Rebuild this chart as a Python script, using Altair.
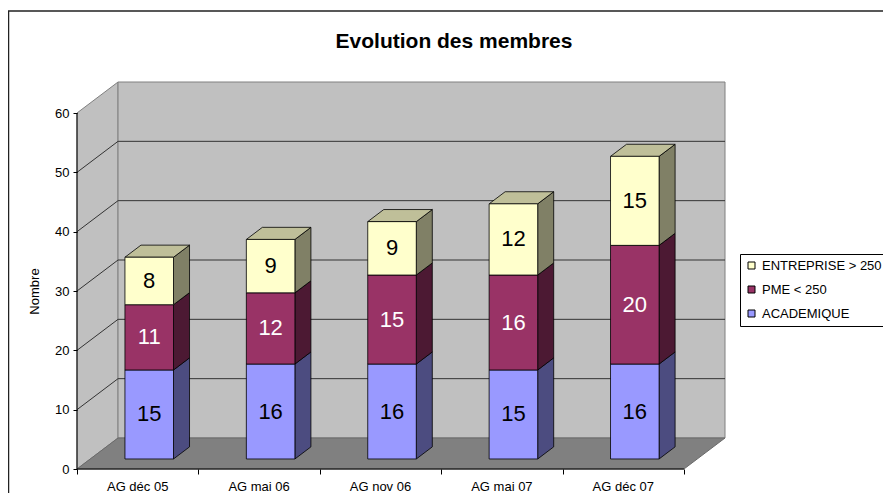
import altair as alt
import pandas as pd

# ---------------- data ----------------
categories = ["AG déc 05", "AG mai 06", "AG nov 06", "AG mai 07", "AG déc 07"]
series = ["ACADEMIQUE", "PME < 250", "ENTREPRISE > 250"]
academique = [15, 16, 16, 15, 16]
pme = [11, 12, 15, 16, 20]
entreprise = [8, 9, 9, 12, 15]
y_ticks = [0, 10, 20, 30, 40, 50, 60]
title_text = "Evolution des membres"
y_title = "Nombre"

front_colors = ["#9999FF", "#993366", "#FFFFCC"]
side_colors = ["#4C4C80", "#4C1933", "#808066"]
top_color = "#BFBF99"
label_colors = ["#000000", "#FFFFFF", "#000000"]

FONT = "Liberation Sans"

# ---------------- 3D geometry (in data units) ----------------
N = len(categories)
Y_TOP = y_ticks[-1]
CAT_PX = 121.3
UNIT_PX = 356.0 / Y_TOP
WALL_DU = 41 / CAT_PX
WALL_DV = 31 / UNIT_PX
BAR_W = 0.40
FRONT_DU = 0.095
FRONT_DV = 1.69
DEPTH_DU = 16 / CAT_PX
DEPTH_DV = 12.1 / UNIT_PX
XMAX = N + WALL_DU
YMAX = Y_TOP + WALL_DV
W = int(round(XMAX * CAT_PX))
H = int(round(YMAX * UNIT_PX))

values = [academique, pme, entreprise]
front, side, top = [], [], []
for i, cat in enumerate(categories):
    lo = 0
    x0 = i + 0.5 - BAR_W / 2 + FRONT_DU
    x1 = x0 + BAR_W
    y1 = FRONT_DV
    for s, name in enumerate(series):
        v = values[s][i]
        hi = lo + v
        y0, y1 = lo + FRONT_DV, hi + FRONT_DV
        front.append(dict(cat=cat, series=name, value=v, x0=x0, x1=x1, y0=y0, y1=y1,
                          xm=(x0 + x1) / 2, ym=(y0 + y1) / 2, tcolor=label_colors[s]))
        fid = f"{i}-{s}"
        side.append(dict(id=fid, x=x1, lo=y0, hi=y1, c=side_colors[s]))
        side.append(dict(id=fid, x=x1 + DEPTH_DU, lo=y0 + DEPTH_DV, hi=y1 + DEPTH_DV, c=side_colors[s]))
        lo = hi
    top.append(dict(id=str(i), y=y1, xa=x0, xb=x1, c=top_color))
    top.append(dict(id=str(i), y=y1 + DEPTH_DV, xa=x0 + DEPTH_DU, xb=x1 + DEPTH_DU, c=top_color))

df_front = pd.DataFrame(front)
df_side = pd.DataFrame(side)
df_top = pd.DataFrame(top)

df_left_wall = pd.DataFrame([dict(x=0, lo=0, hi=Y_TOP),
                             dict(x=WALL_DU, lo=WALL_DV, hi=Y_TOP + WALL_DV)])
df_back_wall = pd.DataFrame([dict(x0=WALL_DU, x1=N + WALL_DU, y0=WALL_DV, y1=Y_TOP + WALL_DV)])
df_floor = pd.DataFrame([dict(y=0, xa=0, xb=N),
                         dict(y=WALL_DV, xa=WALL_DU, xb=N + WALL_DU)])
grid_rows = []
for v in y_ticks[1:-1]:
    grid_rows.append(dict(x=0, y=v, x2=WALL_DU, y2=v + WALL_DV))
    grid_rows.append(dict(x=WALL_DU, y=v + WALL_DV, x2=N + WALL_DU, y2=v + WALL_DV))
df_grid = pd.DataFrame(grid_rows)
df_axes = pd.DataFrame([dict(x=0, y=0, x2=0, y2=Y_TOP), dict(x=0, y=0, x2=N, y2=0)])
df_cats = pd.DataFrame(dict(cat=categories, x=[i + 0.5 for i in range(N)], y=[0] * N))

xs = alt.Scale(domain=[0, XMAX], nice=False, zero=False)
ys = alt.Scale(domain=[0, YMAX], nice=False, zero=False)

XAXIS = alt.Axis(values=list(range(N + 1)), labels=False, tickSize=5, tickColor="#000000",
                 tickWidth=1, domain=False, grid=False, title=None, zindex=1)
YAXIS = alt.Axis(values=y_ticks, tickSize=4, tickColor="#000000", tickWidth=1,
                 labelPadding=4, labelFontSize=13, labelFont=FONT,
                 labelColor="#000000", domain=False, grid=False,
                 title=y_title, titleFont=FONT, titleFontSize=13,
                 titleFontWeight="normal", titleColor="#000000",
                 titleX=-36, titleY=209, zindex=1)


def X(field, **kw):
    return alt.X(field, scale=xs, axis=XAXIS, **kw)


def Y(field, **kw):
    return alt.Y(field, scale=ys, axis=YAXIS, **kw)


# ---------------- layers ----------------
border = alt.Chart(pd.DataFrame({"k": [0]})).mark_rect(
    fill="#FFFFFF", fillOpacity=0, stroke="#222222", strokeWidth=1.5
).encode(x=alt.value(-68.5), x2=alt.value(W + 300), y=alt.value(-71), y2=alt.value(H + 200))

left_wall = alt.Chart(df_left_wall).mark_area(fill="#C0C0C0", stroke="#808080", strokeWidth=1).encode(
    x=X("x:Q"), y=Y("lo:Q", stack=None), y2="hi:Q",
)

back_wall = alt.Chart(df_back_wall).mark_rect(fill="#C0C0C0", stroke="#808080", strokeWidth=1).encode(
    x=X("x0:Q"), x2="x1:Q", y=Y("y0:Q"), y2="y1:Q",
)

floor = alt.Chart(df_floor).mark_area(orient="horizontal", fill="#808080", stroke="#6A6A6A", strokeWidth=1).encode(
    y=Y("y:Q"), x=X("xa:Q", stack=None), x2="xb:Q",
)

grid = alt.Chart(df_grid).mark_rule(color="#333333", strokeWidth=1).encode(
    x=X("x:Q"), x2="x2:Q", y=Y("y:Q"), y2="y2:Q",
)

axes = alt.Chart(df_axes).mark_rule(color="#000000", strokeWidth=1).encode(
    x=X("x:Q"), x2="x2:Q", y=Y("y:Q"), y2="y2:Q",
)

cat_labels = alt.Chart(df_cats).mark_text(
    dy=22.4, baseline="alphabetic", align="center", fontSize=13, font=FONT, color="#000000"
).encode(x=X("x:Q"), y=Y("y:Q"), text="cat:N")

sides = alt.Chart(df_side).mark_area(stroke="#000000", strokeWidth=0.8).encode(
    x=X("x:Q"), y=Y("lo:Q", stack=None), y2="hi:Q",
    detail="id:N", fill=alt.Fill("c:N", scale=None),
)

tops = alt.Chart(df_top).mark_area(orient="horizontal", stroke="#000000", strokeWidth=0.8).encode(
    y=Y("y:Q"), x=X("xa:Q", stack=None), x2="xb:Q",
    detail="id:N", fill=alt.Fill("c:N", scale=None),
)

legend_order = list(reversed(series))
legend_colors = list(reversed(front_colors))

fronts = alt.Chart(df_front).mark_rect(stroke="#000000", strokeWidth=0.8).encode(
    x=X("x0:Q"), x2="x1:Q", y=Y("y0:Q"), y2="y1:Q",
    color=alt.Color("series:N", scale=alt.Scale(domain=legend_order, range=legend_colors),
                    legend=alt.Legend(orient="none", legendX=663, legendY=172, title=None,
                                      fillColor="#FFFFFF", strokeColor="#000000", padding=5,
                                      rowPadding=10, symbolType="square", symbolSize=49,
                                      symbolStrokeColor="#000000", symbolStrokeWidth=1,
                                      labelFont=FONT, labelFontSize=13, labelColor="#000000",
                                      labelOffset=4, cornerRadius=0)),
)

nums = alt.Chart(df_front).mark_text(fontSize=22, font=FONT, baseline="middle", align="center").encode(
    x=X("xm:Q"), y=Y("ym:Q"), text="value:Q", fill=alt.Fill("tcolor:N", scale=None),
)

title = alt.Chart(pd.DataFrame({"t": [title_text]})).mark_text(
    fontSize=21, fontWeight="bold", font=FONT, baseline="alphabetic", align="center", color="#000000"
).encode(x=alt.value(377), y=alt.value(-34), text="t:N")

chart = alt.layer(
    border, left_wall, back_wall, floor, grid, axes, cat_labels, sides, tops, fronts, nums, title
).properties(
    width=W, height=H,
    padding={"left": 69, "top": 74, "right": 875 - 69 - W, "bottom": 24},
    autosize=alt.AutoSizeParams(type="none"),
    background="#FFFFFF",
).configure_view(strokeWidth=0)

chart.save("out.html", embed_options={"renderer": "svg", "actions": False})
